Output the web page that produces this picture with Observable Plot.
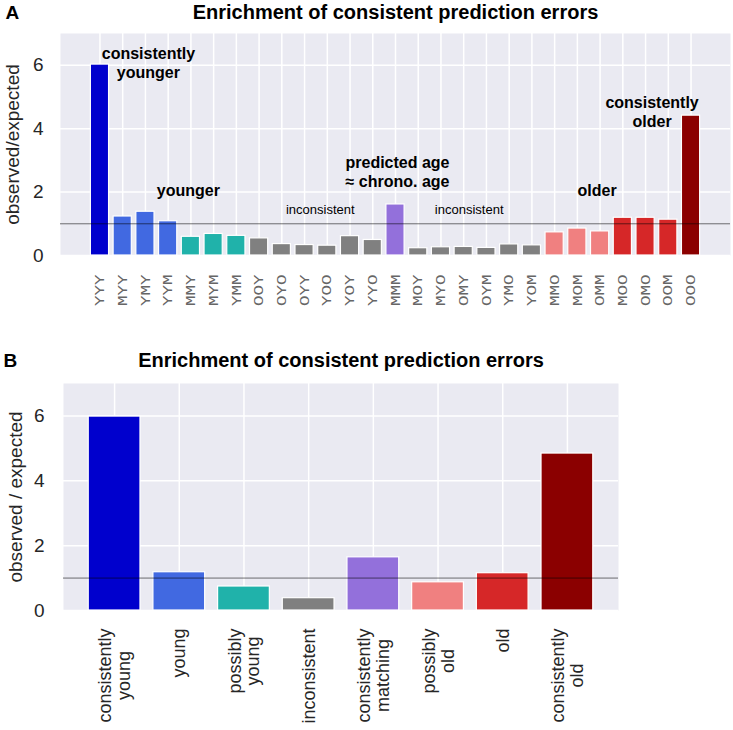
<!DOCTYPE html>
<html><head><meta charset="utf-8">
<script src="https://cdn.jsdelivr.net/npm/d3@7"></script>
<script src="https://cdn.jsdelivr.net/npm/@observablehq/plot@0.6"></script>
<style>
body{margin:0;background:#fff;}
#wrap{position:relative;width:733px;height:730px;overflow:hidden;background:#fff;}
#a{position:absolute;left:0;top:0;z-index:2;}
#b{position:absolute;left:0;top:310px;z-index:1;}
</style></head><body><div id="wrap"><div id="a"></div><div id="b"></div></div>
<script>
// ---------- data ----------
const title = "Enrichment of consistent prediction errors";
const yTicks = [0, 2, 4, 6];

const catsA = ["YYY","MYY","YMY","YYM","MMY","MYM","YMM","OOY","OYO","OYY","YOO","YOY","YYO","MMM",
               "MOY","MYO","OMY","OYM","YMO","YOM","MMO","MOM","OMM","MOO","OMO","OOM","OOO"];
const valuesA = [6.02,1.23,1.38,1.08,0.59,0.68,0.62,0.54,0.36,0.33,0.31,0.61,0.49,1.61,
                 0.23,0.26,0.27,0.24,0.35,0.32,0.73,0.85,0.76,1.19,1.19,1.13,4.41];
const groupA = ["cy","y","y","y","py","py","py","i","i","i","i","i","i","m",
                "i","i","i","i","i","i","po","po","po","o","o","o","co"];

const catsB = ["consistently\nyoung","young","possibly\nyoung","inconsistent",
               "consistently\nmatching","possibly\nold","old","consistently\nold"];
const valuesB = [5.98,1.18,0.74,0.38,1.64,0.87,1.15,4.84];
const groupB = ["cy","y","py","i","m","po","o","co"];

const groupColors = {cy:"#0000CD", y:"#4169E1", py:"#20B2AA", i:"#808080",
                     m:"#9370DB", po:"#F08080", o:"#D62728", co:"#8B0000"};

const annotText = ["consistently\nyounger","younger","inconsistent","predicted age\n≈ chrono. age","inconsistent","older","consistently\nolder"];
const annotCat  = ["YMY","MMY","YOO","MMM","OMY","OMM","OMO"];
const annotY    = [5.59,1.875,1.31,2.16,1.31,1.875,4.06];
const annotBold = [true,true,false,true,false,true,true];

// ---------- styling ----------
const font = "'Liberation Sans', Arial, Helvetica, sans-serif";
const annotDx = [3,-2.5,-7,2,5.5,-3,6.5];
const bg = "#EAEAF2";
const ink = "#262626";

const dataA = catsA.map((c,i)=>({cat:c, value:valuesA[i], color:groupColors[groupA[i]]}));
const dataB = catsB.map((c,i)=>({cat:c, value:valuesB[i], color:groupColors[groupB[i]]}));
const annots = annotText.map((t,i)=>({text:t, cat:annotCat[i], y:annotY[i], bold:annotBold[i], dx:annotDx[i]}));

function common(letter, labelOffset, tickPadding, ylabel, titleDy, letterDx){
  return [
    Plot.frame({fill: bg, stroke: null}),
    Plot.gridX({stroke:"white", strokeOpacity:1, strokeWidth:1.5}),
    Plot.gridY(yTicks, {stroke:"white", strokeOpacity:1, strokeWidth:1.5}),
    Plot.axisY({ticks: yTicks, tickFormat: d => String(d), tickSize: 0, tickPadding, fontSize: 19, color: ink,
                label: ylabel, labelAnchor: "center", labelArrow: "none", labelOffset}),
    Plot.text([title], {text: d=>d, frameAnchor:"top", dy: titleDy, lineAnchor:"bottom",
                fontWeight:"bold", fontSize:20, fill:"black"}),
    Plot.text([letter], {text: d=>d, frameAnchor:"top-left", dx: letterDx, dy: titleDy, textAnchor:"start",
                lineAnchor:"bottom", fontWeight:"bold", fontSize:19, fill:"black"})
  ];
}

// ---------- panel A ----------
const chartA = Plot.plot({
  width: 733, height: 310,
  marginLeft: 60, marginRight: 3, marginTop: 33, marginBottom: 55,
  style: {fontFamily: font, background: "transparent", overflow: "visible"},
  x: {domain: catsA, paddingInner: 0.2, paddingOuter: 1.336, round: false, axis: null},
  y: {domain: [0, 7], axis: null},
  color: {type: "identity"},
  marks: [
    ...common("A", 55, 17, "observed/expected", -15, -55),
    Plot.barY(dataA, {x:"cat", y:"value", fill:"color", stroke:"white", strokeWidth:1.2}),
    Plot.ruleY([1], {stroke:"black", strokeOpacity:0.55, strokeWidth:1}),
    Plot.text(dataA, {x:"cat", text:"cat", frameAnchor:"bottom", dy:19, rotate:-90,
                      textAnchor:"end", lineAnchor:"middle",
                      fontFamily:"'Liberation Mono', 'Courier New', monospace", fontSize:13, fill:"#666"}),
    ...annots.map(a => Plot.text([a], {x:"cat", y:"y", text:"text", dx:a.dx, lineAnchor:"bottom",
                      lineHeight:1.2, fontWeight: a.bold ? "bold" : "normal",
                      fontSize: a.bold ? 16 : 13, fill:"black"}))
  ]
});
chartA.querySelectorAll('g[font-family*="Mono"] text').forEach(t => {
  const tr = t.getAttribute("transform");
  if (tr) t.setAttribute("transform", tr + " scale(1.35,1)");
});
document.getElementById("a").appendChild(chartA);

// ---------- panel B ----------
const ctx = document.createElement("canvas").getContext("2d");
ctx.font = "18px 'Liberation Sans'";
const chartB = Plot.plot({
  width: 733, height: 420,
  marginLeft: 63, marginRight: 115, marginTop: 73, marginBottom: 120,
  style: {fontFamily: font, background: "transparent", overflow: "visible"},
  x: {domain: catsB, paddingInner: 0.2, paddingOuter: 0.39, round: false, axis: null},
  y: {domain: [0, 7], axis: null},
  color: {type: "identity"},
  marks: [
    ...common("B", 55, 19, "observed / expected", -17, -60),
    Plot.barY(dataB, {x:"cat", y:"value", fill:"color", stroke:"white", strokeWidth:1.2}),
    Plot.ruleY([1], {stroke:"black", strokeOpacity:0.55, strokeWidth:1}),
    ...dataB.map(d => {
      const w = d3.max(d.cat.split("\n"), s => ctx.measureText(s).width);
      return Plot.text([d], {x:"cat", text:"cat", frameAnchor:"bottom", dy: 18 + w/2, rotate:-90,
                             textAnchor:"middle", lineAnchor:"middle", lineHeight:1.05,
                             fontSize:18, fill: ink});
    })
  ]
});
document.getElementById("b").appendChild(chartB);
</script>
</body></html>
